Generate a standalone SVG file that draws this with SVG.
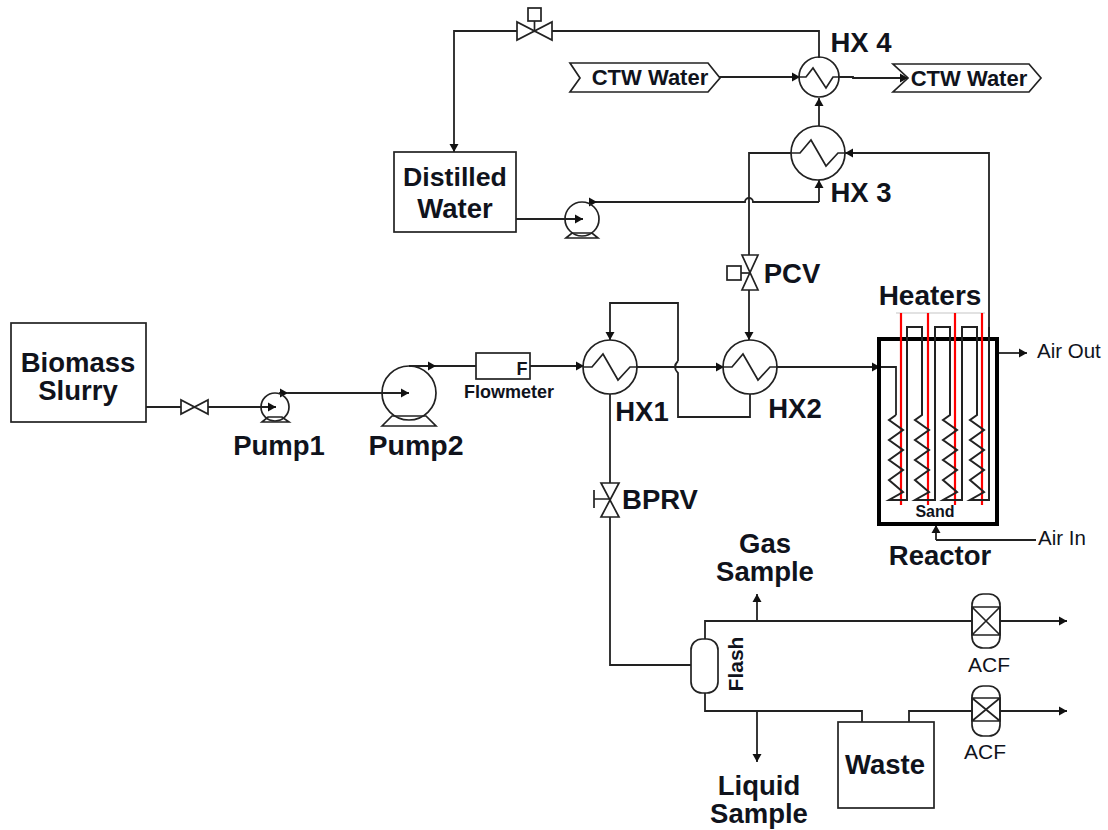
<svg xmlns="http://www.w3.org/2000/svg" width="1108" height="830" viewBox="0 0 1108 830">
<style>
text{font-family:"Liberation Sans",Arial,sans-serif;fill:#10131c}
.b{font-weight:bold;font-size:27.5px;text-anchor:middle}
.s{fill:#fff;stroke:#222;stroke-width:1.7}
.n{fill:none;stroke:#222;stroke-width:1.7}
.l{fill:none;stroke:#222;stroke-width:1.8;marker-end:url(#a)}
.p{fill:none;stroke:#222;stroke-width:1.8}
.r{fill:none;stroke:#f00;stroke-width:2.200}
.t{font-size:21px;text-anchor:middle}
</style>
<defs>
<marker id="a" markerUnits="userSpaceOnUse" markerWidth="11" markerHeight="12" refX="9" refY="6" orient="auto"><path d="M1 1.500L9 6L1 10.500Z" fill="#111"/></marker>
</defs>
<g id="connectors">
<path class="p" d="M146 407H181"/>
<path class="l" d="M208 407H276"/>
<path class="l" d="M279 393H288"/>
<path class="l" d="M288 393H409"/>
<path class="p" d="M409 366H476"/>
<path class="l" d="M425 366H436"/>
<path class="l" d="M530 366H584"/>
<path class="l" d="M637 367H724"/>
<path class="l" d="M678 361q-6 6 0 12V417H750V394M678 361V303H610V340"/>
<path class="l" d="M777 367H880"/>
<path class="p" d="M880 367H896V415"/>
<path class="l" d="M989 327V153H845"/>
<path class="p" d="M749 255V153H791"/>
<path class="l" d="M749 290V340"/>
<path class="p" d="M610 394V483"/>
<path class="p" d="M610 517V665H691"/>
<path class="l" d="M516 219H583"/>
<path class="p" d="M590 202H745a4 4 0 0 1 8 0H819"/>
<path class="l" d="M819 202V180"/>
<path class="l" d="M590 202H597"/>
<path class="l" d="M819 126V98"/>
<path class="p" d="M819 58V31H552"/>
<path class="l" d="M517 31H454V152"/>
<path class="l" d="M719 77H800"/>
<path class="l" d="M838 77H853V78H908"/>
<path class="l" d="M997 353H1027"/>
<path class="p" d="M1036 540H936"/>
<path class="l" d="M936 540V525"/>
<path class="p" d="M705 639V621H972"/>
<path class="l" d="M757 621V594"/>
<path class="l" d="M1000 621H1067"/>
<path class="p" d="M705 693V711H862V722"/>
<path class="l" d="M757 711V762"/>
<path class="p" d="M909 722V711H972"/>
<path class="l" d="M1000 711H1067"/>
</g>
<g id="biomass"><rect class="s" x="11" y="323" width="135" height="99"/><text class="b" x="78" y="372">Biomass</text><text class="b" x="78" y="400">Slurry</text></g>
<g id="valve1"><path class="s" d="M181 400V414L208 400V414Z"/></g>
<g id="pump1"><circle class="n" cx="275" cy="407" r="14"/><path class="n" d="M262 422L268 417H282L289 422Z"/><text class="b" x="279" y="455">Pump1</text></g>
<g id="pump2"><circle class="n" cx="409" cy="393" r="27"/><path class="n" d="M382 426L392 416H426L436 426Z"/><text class="b" x="416" y="455" style="font-size:28.500px">Pump2</text></g>
<g id="flowmeter"><rect class="s" x="476" y="353" width="54" height="26"/><text x="522" y="375" font-size="18" font-weight="bold" text-anchor="middle">F</text><text x="509" y="398" font-size="18" font-weight="bold" text-anchor="middle">Flowmeter</text></g>
<g id="hx1"><circle class="n" cx="610" cy="367" r="27"/><path class="n" d="M583 367H592L603 354L618 380L630 367H637"/><text class="b" x="642" y="421">HX1</text></g>
<g id="hx2"><circle class="n" cx="750" cy="367" r="27"/><path class="n" d="M723 367H732L743 354L758 380L770 367H777"/><text class="b" x="795" y="418">HX2</text></g>
<g id="hx3"><circle class="n" cx="818" cy="153" r="27"/><path class="n" d="M791 153H800L811 140L826 166L838 153H845"/><text class="b" x="861" y="202">HX 3</text></g>
<g id="hx4"><circle class="n" cx="819" cy="77" r="20"/><path class="n" d="M799 77H806L813 68L826 88L833 77H839"/><text class="b" x="861" y="52">HX 4</text></g>
<g id="tv"><path class="s" d="M517 22V40L552 22V40Z"/><path class="n" d="M534.500 31V21"/><rect class="s" x="528" y="8" width="13" height="13"/></g>
<g id="distilled"><rect class="s" x="394" y="152" width="122" height="80"/><text class="b" x="455" y="186" style="font-size:26.700px">Distilled</text><text class="b" x="455" y="218">Water</text></g>
<g id="pump3"><circle class="n" cx="582" cy="219" r="17"/><path class="n" d="M566 238L572 233H592L598 238Z"/></g>
<g id="ctwin"><path class="s" d="M570 63H708L720 78L708 92H570L580 78Z"/><text x="650" y="85" font-size="22" font-weight="bold" text-anchor="middle">CTW Water</text></g>
<g id="ctwout"><path class="n" d="M893 64H1029L1041 78L1029 92H893L908 78Z"/><text x="969" y="86" font-size="22" font-weight="bold" text-anchor="middle">CTW Water</text></g>
<g id="pcv"><path class="s" d="M742 255H758L742 290H758Z"/><path class="n" d="M741 273H750"/><rect class="s" x="727" y="266" width="14" height="14"/><text class="b" x="792" y="283">PCV</text></g>
<g id="reactor">
<rect x="879" y="339" width="118" height="185" fill="none" stroke="#000" stroke-width="4"/>
<path d="M896 313H985" fill="none" stroke="#d8d8d8" stroke-width="1.500"/>
<path class="r" d="M901 313V505M928 313V505M955 313V505M982 313V505"/>
<path class="n" d="M896 415L889 420L903 430L889 440L903 450L889 460L903 470L889 480L903 492L889 500H907V327H922V415L915 420L929 430L915 440L929 450L915 460L929 470L915 480L929 492L915 500H935V327H950V415L943 420L957 430L943 440L957 450L943 460L957 470L943 480L957 492L943 500H962V327H977V415L970 420L984 430L970 440L984 450L970 460L984 470L970 480L984 492L970 500H989V327" style="stroke-width:2"/>
<text x="935" y="517" font-size="16" font-weight="bold" text-anchor="middle">Sand</text>
<text class="b" x="930" y="305" style="font-size:28px">Heaters</text>
<text class="b" x="940" y="565">Reactor</text>
<text x="1037" y="358" font-size="20.500">Air Out</text>
<text x="1038" y="545" font-size="20.500">Air In</text>
</g>
<g id="bprv"><path class="s" d="M601 483H619L601 517H619Z"/><path class="n" d="M594 499H610M594 490V508"/><text class="b" x="660" y="509">BPRV</text></g>
<g id="flash"><rect class="s" x="691" y="639" width="27" height="54" rx="11"/><text x="743" y="664" font-size="21" font-weight="bold" text-anchor="middle" transform="rotate(-90 743 664)">Flash</text></g>
<g id="acf1"><rect class="s" x="972" y="594" width="28" height="54" rx="11"/><path class="n" d="M972 607H1000V635H972ZM972 607L1000 635M1000 607L972 635"/><text class="t" x="989" y="672">ACF</text></g>
<g id="acf2"><rect class="s" x="972" y="686" width="28" height="50" rx="11"/><path class="n" d="M972 698H1000V721H972ZM972 698L1000 721M1000 698L972 721"/><text class="t" x="985" y="759">ACF</text></g>
<g id="waste"><rect class="s" x="838" y="722" width="96" height="86"/><text class="b" x="885" y="774">Waste</text></g>
<g id="gas"><text class="b" x="765" y="553">Gas</text><text class="b" x="765" y="581">Sample</text></g>
<g id="liquid"><text class="b" x="759" y="795">Liquid</text><text class="b" x="759" y="823">Sample</text></g>
</svg>
